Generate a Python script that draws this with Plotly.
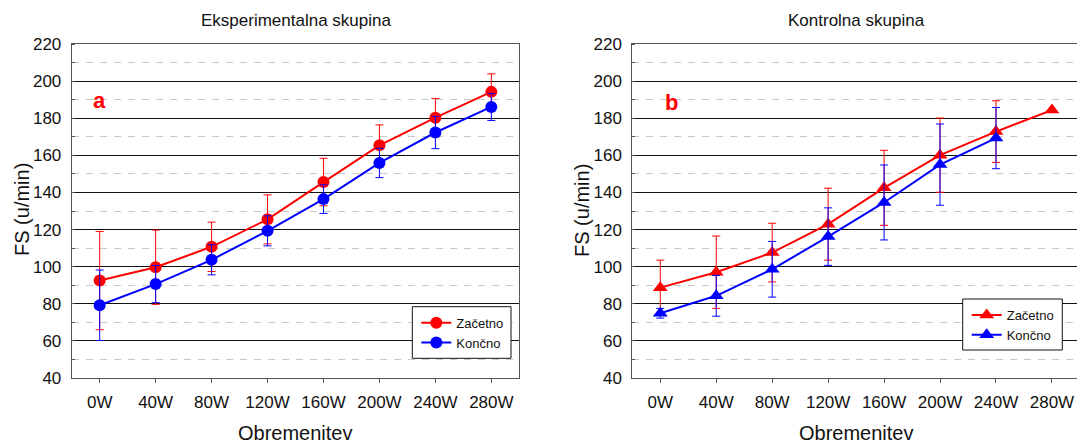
import plotly.graph_objects as go

# ---------------- data ----------------
loads = ["0W", "40W", "80W", "120W", "160W", "200W", "240W", "280W"]

exp_start = [92.5, 99.7, 110.7, 125.5, 145.6, 165.4, 180.3, 194.2]
exp_start_sd = [26.5, 20.0, 13.3, 13.2, 12.8, 11.0, 10.3, 9.7]
exp_end = [79.2, 90.6, 103.7, 119.3, 136.4, 155.9, 172.3, 186.1]
exp_end_sd = [19.0, 10.0, 8.1, 8.1, 7.7, 7.9, 8.7, 7.3]

ctl_start = [88.7, 97.0, 107.6, 122.9, 142.5, 160.1, 172.8, 184.4]
ctl_start_sd = [14.8, 19.5, 15.8, 19.4, 20.2, 20.0, 16.6, None]
ctl_end = [74.9, 84.3, 98.6, 116.2, 134.6, 155.0, 169.3, None]
ctl_end_sd = [2.6, 11.0, 15.0, 15.5, 20.2, 21.9, 16.5, None]

series_names = ["Začetno", "Končno"]
titles = ["Eksperimentalna skupina", "Kontrolna skupina"]
panel_letters = ["a", "b"]
y_ticks = [40, 60, 80, 100, 120, 140, 160, 180, 200, 220]

RED = "#ff0000"
BLUE = "#0000ff"
FONT = "Liberation Sans, Arial, sans-serif"

W, H = 1077, 445


def px(x):
    return x / W


def py(y):
    return 1 - y / H


fig = go.Figure()


def add_series(x_ax, y_ax, y, sd, color, symbol, size, name, legend):
    fig.add_trace(go.Scatter(
        x=loads, y=y, name=name, mode="lines+markers",
        xaxis=x_ax, yaxis=y_ax, legend=legend,
        line=dict(color=color, width=2),
        marker=dict(color=color, symbol=symbol, size=size),
        error_y=dict(type="data", array=sd, visible=True, color=color,
                     thickness=1, width=4),
        connectgaps=False,
    ))


add_series("x", "y", exp_start, exp_start_sd, RED, "circle", 12, series_names[0], "legend")
add_series("x", "y", exp_end, exp_end_sd, BLUE, "circle", 12, series_names[1], "legend")
add_series("x2", "y2", ctl_start, ctl_start_sd, RED, "triangle-up", 13, series_names[0], "legend2")
add_series("x2", "y2", ctl_end, ctl_end_sd, BLUE, "triangle-up", 13, series_names[1], "legend2")

left_dom = [px(71.7), px(519.3)]
right_dom = [px(632.3), 1.0]
y_dom = [py(378), py(44)]

axis_line = "#555555"

xcommon = dict(type="category", showgrid=False, showline=True, linecolor=axis_line,
               linewidth=1, mirror=True, ticks="outside", ticklen=4,
               tickcolor=axis_line, tickfont=dict(family=FONT, size=17, color="#111"),
               ticklabelstandoff=5, zeroline=False, automargin=False)
ycommon = dict(range=[40, 220], tickvals=y_ticks, showgrid=True, gridcolor="#111111",
               gridwidth=1, showline=True, linecolor=axis_line, linewidth=1,
               ticks="", tickfont=dict(family=FONT, size=17, color="#111"),
               ticklabelstandoff=6, zeroline=False, automargin=False,
               minor=dict(dtick=10, tick0=40, showgrid=True, gridcolor="#c8c8c8",
                          griddash="7px,7px", gridwidth=1, ticks="inside",
                          ticklen=3, tickcolor=axis_line))

legend_boxes = [(412.3, 306.7, 511, 358.3), (962.7, 299, 1062.3, 350)]

fig.update_layout(
    width=W, height=H,
    margin=dict(l=0, r=0, t=0, b=0, autoexpand=False),
    paper_bgcolor="white", plot_bgcolor="white",
    font=dict(family=FONT, color="#111"),
    xaxis=dict(domain=left_dom, anchor="y", range=[-0.5, 7.5], **xcommon),
    yaxis=dict(domain=y_dom, anchor="x", mirror=True, **ycommon),
    xaxis2=dict(domain=right_dom, anchor="y2", range=[-0.5, -0.5 + (W - 632.3) / 55.95], **xcommon),
    yaxis2=dict(domain=y_dom, anchor="x2", mirror=False, **ycommon),
    legend=dict(x=px(legend_boxes[0][0] + 4), y=py(legend_boxes[0][1] + 1), xanchor="left", yanchor="top",
                borderwidth=0, bgcolor="rgba(0,0,0,0)",
                font=dict(family=FONT, size=13, color="#111"),
                tracegroupgap=0, itemwidth=30),
    legend2=dict(x=px(legend_boxes[1][0] + 4), y=py(legend_boxes[1][1] + 1), xanchor="left", yanchor="top",
                 borderwidth=0, bgcolor="rgba(0,0,0,0)",
                 font=dict(family=FONT, size=13, color="#111"),
                 tracegroupgap=0, itemwidth=30),
    showlegend=True,
)

shapes = []
for (x0, y0, x1, y1) in legend_boxes:
    shapes.append(dict(type="rect", xref="paper", yref="paper",
                       x0=px(x0), x1=px(x1), y0=py(y1), y1=py(y0),
                       line=dict(color="#111", width=1), fillcolor="white",
                       layer="above"))
fig.update_layout(shapes=shapes)

annos = []
# panel titles
for cx, t in zip([295.5, 856], titles):
    annos.append(dict(text=t, x=px(cx), y=py(20), xref="paper", yref="paper",
                      showarrow=False, xanchor="center", yanchor="middle",
                      font=dict(family=FONT, size=17, color="#111")))
# x-axis titles
for cx in [295.5, 856]:
    annos.append(dict(text="Obremenitev", x=px(cx), y=0, xref="paper", yref="paper",
                      showarrow=False, xanchor="center", yanchor="bottom", borderpad=0,
                      font=dict(family=FONT, size=20, color="#111")))
# y-axis titles
for cx in [22, 582]:
    annos.append(dict(text="FS (u/min)", x=px(cx), y=py(210), xref="paper", yref="paper",
                      showarrow=False, xanchor="center", yanchor="middle", textangle=-90,
                      font=dict(family=FONT, size=20, color="#111")))
# panel letters
for (cx, cy), letter in zip([(99, 100.5), (671.5, 102.5)], panel_letters):
    annos.append(dict(text="<b>%s</b>" % letter, x=px(cx), y=py(cy), xref="paper", yref="paper",
                      showarrow=False, xanchor="center", yanchor="middle",
                      font=dict(family=FONT, size=22, color=RED)))
fig.update_layout(annotations=annos)

fig.write_html("out.html")
